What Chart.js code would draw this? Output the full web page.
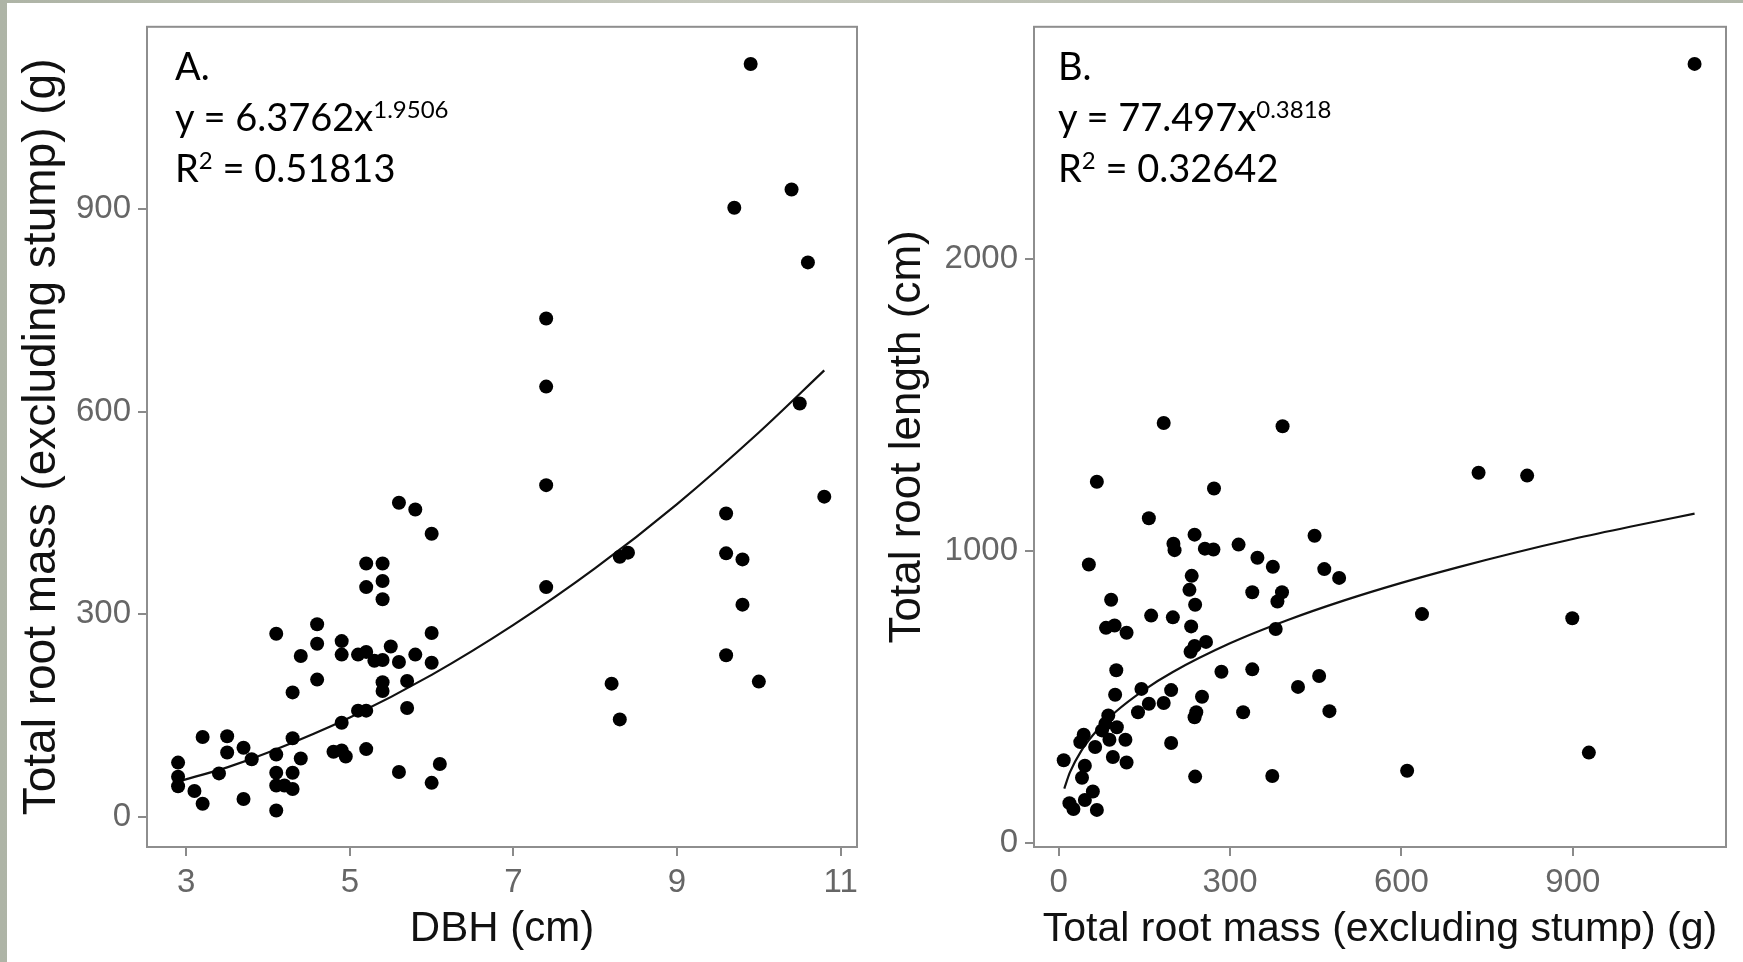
<!DOCTYPE html>
<html lang="en">
<head>
<meta charset="UTF-8">
<title>Root mass and length</title>
<script src="https://cdn.jsdelivr.net/npm/chart.js"></script>
<style>
    body {
        margin: 0;
        width: 1743px;
        height: 962px;
        overflow: hidden;
        background: linear-gradient(90deg, #aeb4a6, #c3c6bb 40%, #b2b7aa);
        position: relative;
    }
    #fundo {
        position: absolute;
        left: 7px; top: 3px; right: 0; bottom: 0;
        background: #fff;
    }
    canvas { position: absolute; top: 0; }
    #graficoA { left: 0; }
    #graficoB { left: 872px; }
    .anot {
        position: absolute;
        top: 40px;
        font-family: Lato, "Open Sans", sans-serif;
        font-size: 38px;
        line-height: 51px;
        color: #000;
        white-space: nowrap;
    }
    .anot sup {
        font-size: 24px;
        line-height: 0;
        vertical-align: 13px;
    }
</style>
</head>
<body>
<div id="fundo"></div>
<canvas id="graficoA" width="872" height="962"></canvas>
<canvas id="graficoB" width="871" height="962"></canvas>

<div class="anot" style="left:175px">A.<br>y = 6.3762x<sup>1.9506</sup><br>R<sup>2</sup> = 0.51813</div>
<div class="anot" style="left:1058px">B.<br>y = 77.497x<sup>0.3818</sup><br>R<sup>2</sup> = 0.32642</div>

<script>
// painel A - DBH x massa de raiz
const dbhA = [5.6,5.8,6.0,5.2,5.4,5.4,5.2,5.4,4.6,4.1,6.0,4.6,4.9,4.9,4.4,5.1,5.2,5.3,5.4,5.5,5.6,5.8,6.0,4.6,4.3,5.4,5.4,5.7,5.7,5.1,
    5.2,4.9,3.2,3.5,4.3,3.5,3.7,3.8,4.1,4.4,4.8,4.9,4.95,5.2,2.9,2.9,2.9,3.1,3.2,3.4,3.7,4.1,4.3,4.1,4.2,4.3,4.1,5.6,6.1,6.0,
    7.4,7.4,7.4,7.4,8.3,8.4,8.2,8.3,10.5,10.8,9.6,9.6,9.8,9.8,9.6,10.0,9.9,9.7,10.4,10.6];
const massaA = [465,455,419,375,375,349,340,322,285,271,272,256,260,240,238,240,244,231,232,252,229,240,228,203,184,199,186,201,161,157,
    157,139,118,119,116,95,102,85,92,86,96,98,89,100,80,59,45,38,19,64,26,65,65,46,46,41,9,66,78,50,
    738,637,491,340,385,391,197,144,612,474,449,390,381,314,239,200,1115,902,929,821];

const curvaAx = [2.9, 3.5, 4, 5, 6, 7, 8, 9, 10, 10.8];
const curvaAy = [52, 73, 95, 147, 210, 284, 368, 463, 569, 661];

// painel B - massa x comprimento de raiz
const massaB = [184,392,67,272,158,201,203,238,256,271,315,348,375,53,233,229,239,339,391,383,
    92,83,98,119,162,200,232,380,238,231,258,101,285,339,99,145,197,158,139,184,
    251,241,238,323,87,82,102,76,44,38,64,89,117,95,119,197,9,46,41,60,
    46,19,26,67,239,374,1113,735,820,448,465,491,636,899,419,456,474,610,928];
const comprB = [1438,1427,1237,1214,1112,1025,1003,1056,1008,1005,1022,977,946,954,915,867,816,859,859,827,
    833,737,745,720,779,773,742,733,675,655,689,592,587,595,508,528,524,477,448,480,
    501,448,431,448,437,409,397,386,371,346,329,354,354,295,276,343,284,265,224,177,
    148,137,117,114,228,230,2667,1268,1258,1052,938,908,784,770,535,572,452,248,310];

const curvaBx = [10, 20, 40, 70, 100, 150, 200, 300, 400, 500, 600, 700, 800, 900, 1000, 1113];
const curvaBy = [187, 243, 317, 392, 450, 525, 586, 684, 763, 831, 891, 945, 995, 1041, 1083, 1128];

// ticks
const ticksAx = [3, 5, 7, 9, 11];
const ticksAy = [0, 300, 600, 900];
const ticksBx = [0, 300, 600, 900];
const ticksBy = [0, 1000, 2000];

const fonte = "'Liberation Sans', Arial, sans-serif";

// moldura em volta da área do gráfico
const moldura = {
    id: 'moldura',
    beforeDatasetsDraw(chart) {
        const a = chart.chartArea;
        const ctx = chart.ctx;
        ctx.save();
        ctx.strokeStyle = '#8e8e8e';
        ctx.lineWidth = 2;
        ctx.strokeRect(a.left, a.top, a.right - a.left, a.bottom - a.top);
        ctx.restore();
    }
};

function eixo(min, max, ticks, titulo, tamTitulo, padTitulo, tamanho, horizontal) {
    return {
        type: 'linear',
        min: min,
        max: max,
        afterBuildTicks: (s) => { s.ticks = ticks.map(v => ({ value: v })); },
        afterFit: (s) => { if (horizontal) s.height = tamanho; else s.width = tamanho; },
        grid: { drawOnChartArea: false, drawTicks: true, tickLength: 9, color: '#8a8a8a', lineWidth: 2 },
        border: { display: false },
        ticks: {
            color: '#666',
            font: { family: fonte, size: 33 },
            padding: 7,
            maxRotation: 0,
            autoSkip: false,
            callback: (v) => String(v)
        },
        title: {
            display: true,
            text: titulo,
            color: '#111',
            font: { family: fonte, size: tamTitulo, lineHeight: 1 },
            padding: horizontal ? { top: 0, bottom: padTitulo } : { top: padTitulo, bottom: 0 }
        }
    };
}

function montar(id, xs, ys, cx, cy, opcoesX, opcoesY, padRight) {
    return new Chart(document.getElementById(id), {
        type: 'scatter',
        data: {
            datasets: [
                {
                    data: xs.map((v, i) => ({ x: v, y: ys[i] })),
                    backgroundColor: '#000',
                    borderWidth: 0,
                    pointRadius: 7
                },
                {
                    type: 'line',
                    data: cx.map((v, i) => ({ x: v, y: cy[i] })),
                    borderColor: '#111',
                    borderWidth: 2.2,
                    pointRadius: 0,
                    fill: false,
                    cubicInterpolationMode: 'monotone'
                }
            ]
        },
        options: {
            responsive: false,
            animation: false,
            layout: { padding: { top: 21, right: padRight, bottom: 0, left: 0 } },
            plugins: {
                legend: { display: false },
                tooltip: { enabled: false }
            },
            scales: { x: opcoesX, y: opcoesY }
        },
        plugins: [moldura]
    });
}

const graficoA = montar('graficoA', dbhA, massaA, curvaAx, curvaAy,
    eixo(2.52, 11.2, ticksAx, 'DBH (cm)', 42, 12, 115, true),
    eixo(-45, 1170, ticksAy, 'Total root mass (excluding stump) (g)', 46, 19, 147, false),
    15);

const graficoB = montar('graficoB', massaB, comprB, curvaBx, curvaBy,
    eixo(-43, 1168, ticksBx, 'Total root mass (excluding stump) (g)', 41, 12, 115, true),
    eixo(-13, 2794, ticksBy, 'Total root length (cm)', 44, 14, 162, false),
    17);
</script>
</body>
</html>
